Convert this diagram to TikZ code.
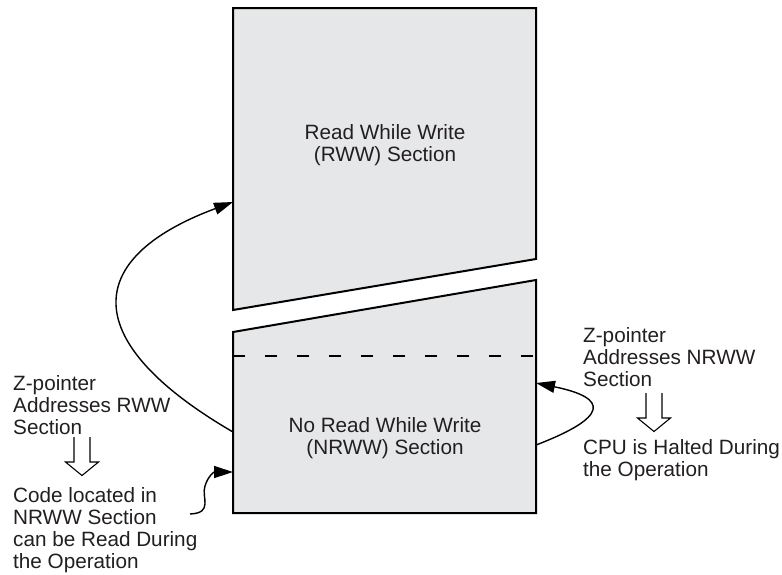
\documentclass[tikz,border=0pt]{standalone}
\usepackage{fontspec}
\setmainfont{Liberation Sans}
\usepackage{xcolor}
\usetikzlibrary{arrows.meta, positioning}
\definecolor{blockgray}{HTML}{E6E7E8}
\definecolor{inkgray}{HTML}{231F20}

\begin{document}
\begin{tikzpicture}[x=1pt, y=-1pt,
  block/.style={draw=black, line width=2pt, fill=blockgray, line join=miter},
  lbl/.style={font=\fontsize{20.7}{22}\selectfont, text=inkgray, inner sep=0pt, align=left},
  flow/.style={-{Triangle[length=19pt,width=12pt]}, line width=1.4pt},
  hollow/.style={line width=1.1pt, line join=miter}]
  \fill[white] (0,0) rectangle (782,574);
  \useasboundingbox (0,0) rectangle (782,574);

  % Memory sections
  \draw[block] (233,8) -- (536,8) -- (536,259) -- (233,310) -- cycle;
  \draw[block] (233,332) -- (536,280) -- (536,513) -- (233,513) -- cycle;
  \draw[line width=1.5pt, dash pattern=on 12pt off 20pt] (233,356) -- (536,356);

  \node[lbl, align=center] (rww) at (385,145.5) {Read While Write\\(RWW) Section};
  \node[lbl, align=center] (nrww) at (385,438.5) {No Read While Write\\(NRWW) Section};

  % Edge points of the sections
  \coordinate (rwwL) at (233,202);
  \coordinate (nrwwL) at (233,432);
  \coordinate (nrwwLlow) at (233,472);
  \coordinate (nrwwRlow) at (536,445);
  \coordinate (nrwwRhigh) at (536,383);

  % Side notes
  \node[lbl, anchor=north west] (zrww) at (13,375.5) {Z-pointer\\Addresses RWW\\Section};
  \node[lbl, anchor=north west] (code) at (13,487) {Code located in\\NRWW Section\\can be Read During\\the Operation};
  \node[lbl, anchor=north west] (znrww) at (583,327.5) {Z-pointer\\Addresses NRWW\\Section};
  \node[lbl, anchor=north west] (cpu) at (583,439.5) {CPU is Halted During\\the Operation};

  % Hollow arrows between the notes
  \foreach \x/\y in {82/437, 654/393}{
    \draw[hollow] (\x-8,\y) -- ++(0,25) -- ++(-8.5,0) -- ++(16.5,13.5) -- ++(16.5,-13.5)
      -- ++(-8.5,0) -- ++(0,-25);
  }

  % Flow arrows
  \draw[flow] (nrwwL) .. controls (80,343) and (80,259) .. (rwwL);
  \draw[flow] (nrwwRlow) .. controls (609,417) and (609,398) .. (nrwwRhigh);
  \coordinate (codeEnd) at (190,514);
  \draw[flow] (codeEnd) .. controls (214,513) and (201,497) .. (205,486)
    .. controls (208,476) and (214,472) .. (nrwwLlow);
\end{tikzpicture}
\end{document}
